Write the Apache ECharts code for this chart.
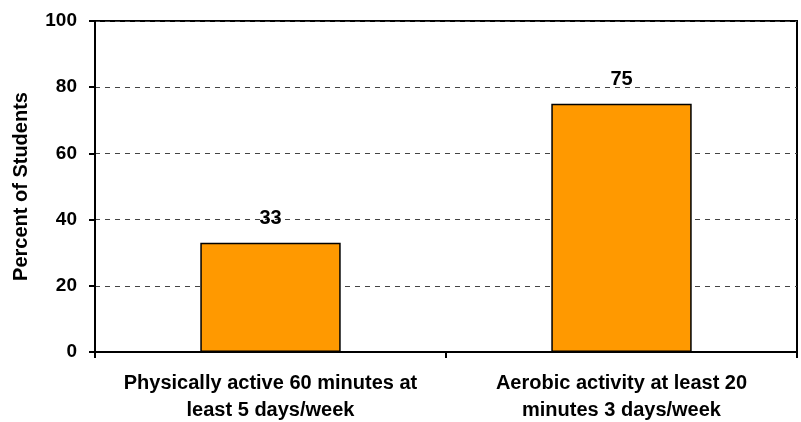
<!DOCTYPE html>
<html><head><meta charset="utf-8">
<script src="https://cdn.jsdelivr.net/npm/echarts@6/dist/echarts.min.js"></script>
<style>html,body{margin:0;padding:0;background:#fff}#c{width:801px;height:422px}</style>
</head><body><div id="c"></div>
<script>
const categories = ["Physically active 60 minutes at\nleast 5 days/week", "Aerobic activity at least 20\nminutes 3 days/week"];
const values = [33, 75];
const yTicks = [0, 20, 40, 60, 80, 100];

const chart = echarts.init(document.getElementById('c'), null, {renderer: 'canvas'});
const font = '"Liberation Sans", Arial, sans-serif';
chart.setOption({
  animation: false,
  grid: {left: 95, right: 4, top: 21, bottom: 70, outerBoundsMode: 'none', containLabel: false,
         show: true, borderColor: '#000', borderWidth: 2, backgroundColor: 'transparent'},
  xAxis: {
    type: 'category', data: categories,
    axisLine: {lineStyle: {color: '#000', width: 2}},
    axisTick: {show: true, interval: 0, length: 6, lineStyle: {color: '#000', width: 2}},
    axisLabel: {interval: 0, hideOverlap: false, color: '#000', fontFamily: font, fontWeight: 'bold', fontSize: 20, lineHeight: 27, margin: 18}
  },
  yAxis: {
    type: 'value', min: yTicks[0], max: yTicks[yTicks.length-1], interval: 20,
    name: 'Percent of Students', nameLocation: 'middle', nameGap: 64,
    nameTextStyle: {color: '#000', fontFamily: font, fontWeight: 'bold', fontSize: 20},
    axisLine: {show: true, lineStyle: {color: '#000', width: 2}},
    axisTick: {show: true, length: 6, lineStyle: {color: '#000', width: 2}},
    axisLabel: {color: '#000', fontFamily: font, fontWeight: 'bold', fontSize: 19, margin: 18},
    splitLine: {show: true, lineStyle: {color: '#444', width: 1, type: [5, 5]}}
  },
  series: [{
    type: 'bar', data: values, barWidth: '40%',
    itemStyle: {color: '#FF9900', borderColor: '#000', borderWidth: 1.5},
    label: {show: true, position: 'top', distance: 14, color: '#000', fontFamily: font, fontWeight: 'bold', fontSize: 20}
  }]
});
</script></body></html>
